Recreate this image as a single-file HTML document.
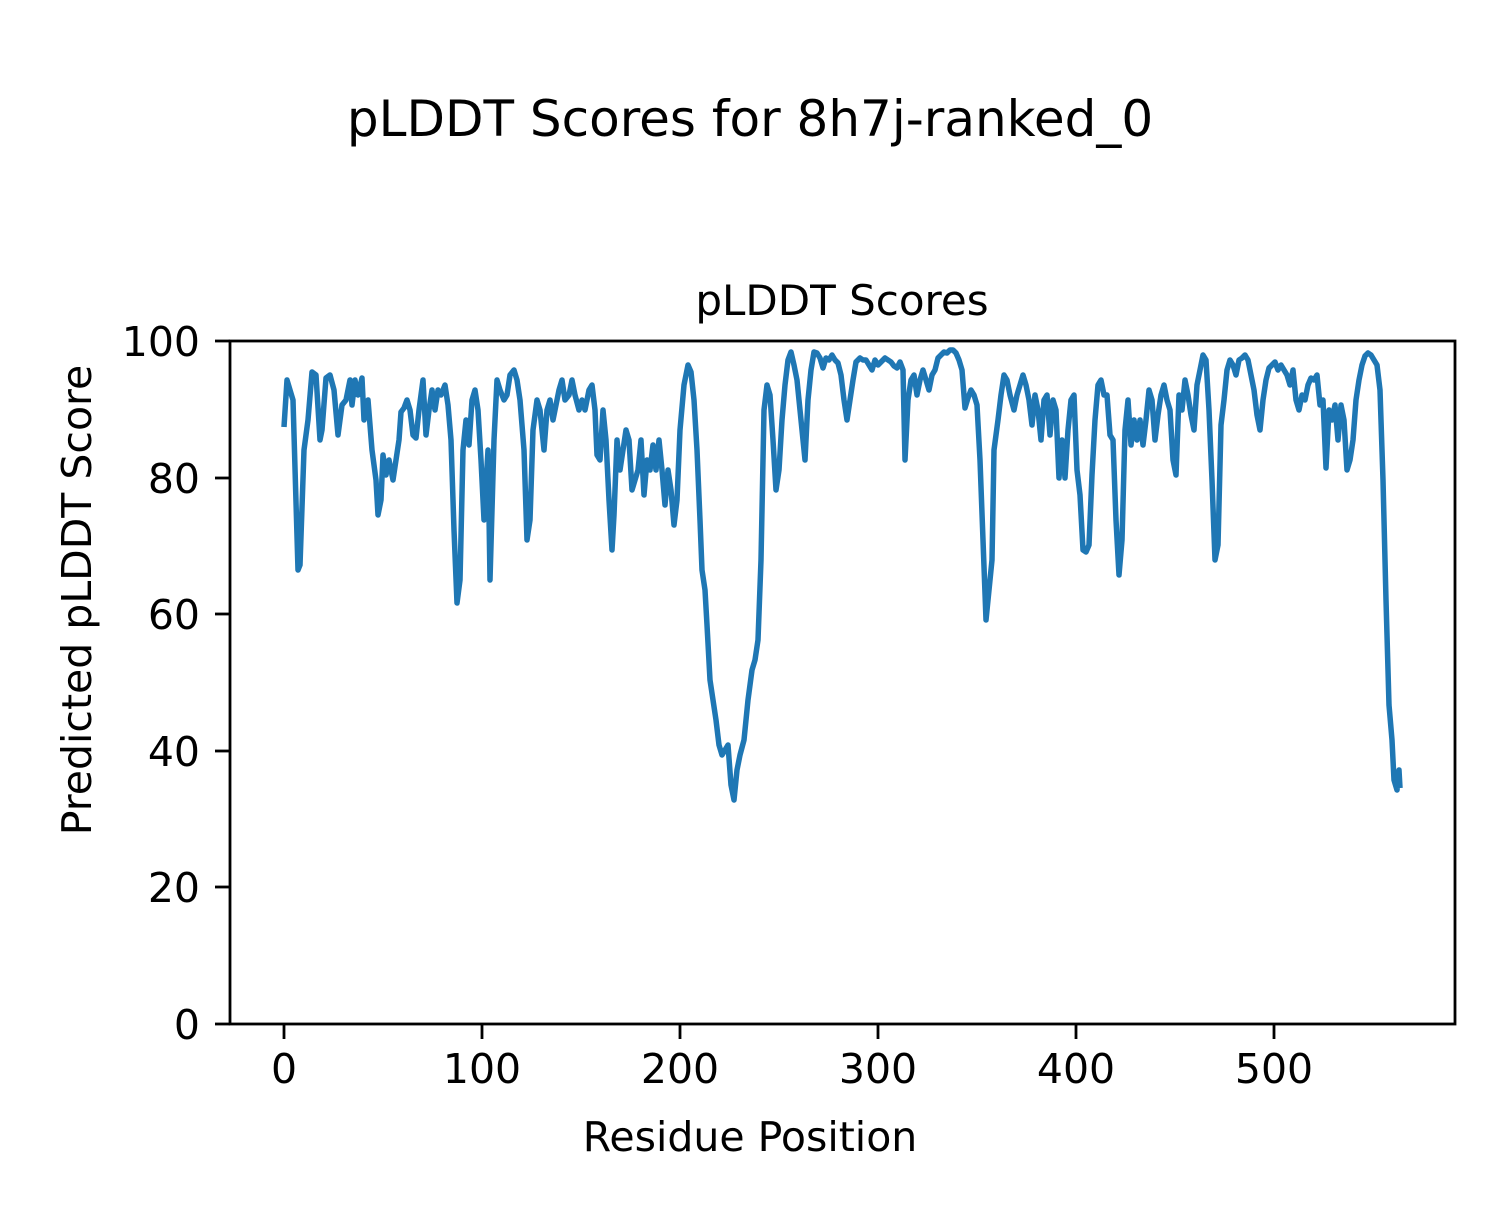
<!DOCTYPE html>
<html><head><meta charset="utf-8"><style>
body{margin:0;background:#fff;}
svg text{font-family:"DejaVu Sans","Liberation Sans",sans-serif;fill:#000;}
</style></head><body>
<svg width="1500" height="1200" xmlns="http://www.w3.org/2000/svg">
<rect width="1500" height="1200" fill="#fff"/>
<text x="750" y="136" font-size="50" text-anchor="middle">pLDDT Scores for 8h7j-ranked_0</text>
<text x="842" y="315" font-size="42" text-anchor="middle">pLDDT Scores</text>
<polyline fill="none" stroke="#1f77b4" stroke-width="5.5" stroke-linejoin="round" points="284,427 287,380 290,390 293,400 298,570 300,565 304,450 308,420 312,372 316,375 320,440 322,430 326,378 330,375 334,390 338,435 342,405 346,400 350,380 352,405 355,380 358,395 362,378 364,420 368,400 372,450 376,480 378,515 381,500 383,455 386,475 389,460 393,480 396,460 399,440 401,412 404,408 407,400 410,410 413,435 416,438 419,410 423,380 426,435 429,410 432,390 435,410 438,390 441,395 445,385 448,405 451,440 454,530 457,603 460,580 463,450 466,420 469,445 472,400 475,390 478,410 481,460 484,520 488,450 490,580 494,440 497,380 500,390 504,400 507,395 510,375 514,370 517,380 520,400 524,450 527,540 530,520 533,430 537,400 540,410 544,450 547,410 550,400 553,420 556,405 559,390 562,380 565,400 569,395 572,380 575,395 579,410 582,400 585,410 589,390 592,385 595,410 597,455 600,460 603,410 606,440 609,500 612,550 614,515 617,440 620,470 623,450 626,430 629,440 632,490 635,480 638,470 641,440 644,495 647,460 650,470 653,445 656,470 659,440 662,470 665,505 668,470 671,490 674,525 677,500 680,430 684,385 688,365 691,372 694,400 697,450 700,520 702,570 705,590 707,625 710,680 713,700 716,720 719,745 722,755 725,750 728,745 731,785 734,800 737,770 740,755 744,740 748,700 752,670 755,660 758,640 761,560 764,410 767,385 770,395 773,440 776,490 779,470 782,420 785,385 788,360 791,352 794,365 797,380 800,410 803,440 805,460 808,400 811,370 814,352 817,353 820,358 823,368 826,358 829,360 832,355 835,360 838,363 841,375 844,400 847,420 850,400 853,380 856,362 860,358 863,360 866,360 869,365 872,370 875,360 878,365 881,362 885,358 888,360 891,362 894,366 897,368 900,362 903,370 905,460 908,400 911,380 914,375 917,395 920,380 923,370 926,380 929,390 932,375 935,370 938,358 941,355 944,352 947,353 950,350 953,350 956,353 959,360 962,370 965,408 968,398 971,390 974,395 977,405 980,460 983,540 986,620 989,590 992,560 994,450 998,420 1001,395 1004,375 1007,380 1010,395 1014,410 1017,395 1020,385 1023,375 1026,385 1029,400 1032,425 1035,395 1038,410 1041,440 1044,400 1047,395 1050,435 1053,400 1056,410 1059,478 1062,440 1065,478 1068,430 1071,400 1074,395 1077,470 1080,495 1083,550 1086,552 1089,545 1092,475 1095,420 1098,385 1101,380 1104,395 1107,395 1110,435 1113,440 1116,520 1119,575 1122,540 1125,430 1128,400 1131,445 1134,420 1137,440 1140,420 1143,445 1146,420 1149,390 1152,400 1155,440 1158,415 1161,395 1164,385 1167,400 1170,410 1173,460 1176,475 1179,395 1182,410 1185,380 1188,395 1191,415 1194,430 1197,385 1200,370 1203,355 1206,360 1209,410 1212,480 1215,560 1218,545 1221,425 1224,400 1227,370 1230,360 1233,365 1236,375 1239,360 1242,358 1245,355 1248,360 1251,375 1254,390 1257,415 1260,430 1263,400 1266,380 1269,368 1272,365 1275,362 1278,370 1281,365 1284,370 1287,375 1290,385 1293,370 1296,400 1299,410 1302,395 1305,400 1308,385 1311,378 1314,380 1317,375 1320,405 1323,400 1326,468 1329,410 1332,420 1335,405 1338,440 1341,405 1344,420 1347,470 1350,460 1353,440 1356,400 1359,380 1362,365 1365,356 1368,353 1371,355 1374,360 1377,365 1380,390 1383,480 1386,600 1389,705 1392,740 1394,780 1397,790 1399,770 1400,788"/>
<rect x="230" y="341" width="1225" height="683" fill="none" stroke="#000" stroke-width="2.8"/>
<g stroke="#000" stroke-width="2.8">
<line x1="215" y1="341" x2="230" y2="341"/><line x1="215" y1="478" x2="230" y2="478"/><line x1="215" y1="614" x2="230" y2="614"/><line x1="215" y1="751" x2="230" y2="751"/><line x1="215" y1="887" x2="230" y2="887"/><line x1="215" y1="1024" x2="230" y2="1024"/>
<line x1="284" y1="1024" x2="284" y2="1039"/><line x1="482" y1="1024" x2="482" y2="1039"/><line x1="680" y1="1024" x2="680" y2="1039"/><line x1="878" y1="1024" x2="878" y2="1039"/><line x1="1076" y1="1024" x2="1076" y2="1039"/><line x1="1274" y1="1024" x2="1274" y2="1039"/>
</g>
<g font-size="41" text-anchor="end">
<text x="200" y="356">100</text><text x="200" y="493">80</text><text x="200" y="629">60</text><text x="200" y="766">40</text><text x="200" y="902">20</text><text x="200" y="1039">0</text>
</g>
<g font-size="41" text-anchor="middle">
<text x="284" y="1083">0</text><text x="482" y="1083">100</text><text x="680" y="1083">200</text><text x="878" y="1083">300</text><text x="1076" y="1083">400</text><text x="1274" y="1083">500</text>
</g>
<text x="750" y="1151" font-size="41" text-anchor="middle">Residue Position</text>
<text transform="translate(91,600) rotate(-90)" font-size="41" text-anchor="middle">Predicted pLDDT Score</text>
</svg>
</body></html>
